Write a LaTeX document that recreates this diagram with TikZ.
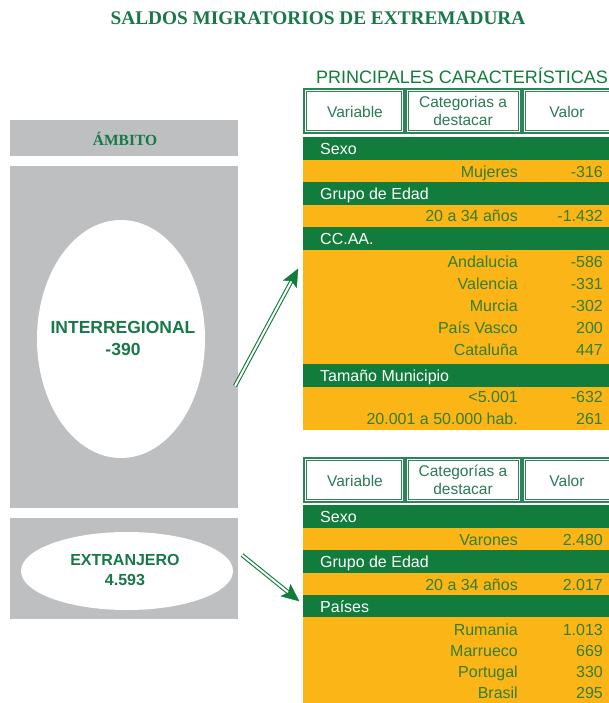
\documentclass[tikz,border=0pt]{standalone}
\usepackage{fontspec}
\setmainfont{Liberation Serif}
\setsansfont{Liberation Sans}
\usetikzlibrary{shapes.geometric,arrows.meta,calc}
\definecolor{bargreen}{RGB}{18,124,60}
\definecolor{baryellow}{RGB}{251,181,22}
\definecolor{boxgray}{RGB}{189,191,193}
\definecolor{valgreen}{RGB}{52,126,46}
\definecolor{titlegreen}{RGB}{24,120,72}
\definecolor{hdrgreen}{RGB}{44,122,84}
\definecolor{linegreen}{RGB}{46,132,88}
\tikzset{
  tf/.style={font=\sffamily\fontsize{16}{18}\selectfont, inner sep=0pt},
  varlbl/.style={tf, text=white, anchor=base west, yshift=-5.6pt},
  catlbl/.style={tf, text=valgreen, anchor=base east, yshift=-5.6pt},
  vallbl/.style={tf, text=valgreen, anchor=base east, yshift=-5.6pt},
  celloutline/.style={draw=linegreen, line width=1.1pt},
  cellinline/.style={draw=linegreen, line width=0.7pt},
  hdrtxt/.style={font=\sffamily\fontsize{15.5}{17.5}\selectfont, inner sep=0pt, text=hdrgreen, align=center},
  shaft/.style={draw=bargreen, line width=1.1pt, double=white, double distance=2pt},
  tiphead/.style={fill=bargreen, draw=bargreen, line width=0.4pt, line join=miter},
  bigtxt/.style={font=\sffamily\bfseries\fontsize{17.5}{22}\selectfont, text=titlegreen, align=center},
}
\begin{document}
\begin{tikzpicture}[x=1pt,y=-1pt]
\useasboundingbox (0,0) rectangle (609,703);
\clip (0,0) rectangle (609,703);
\fill[white] (0,0) rectangle (609,703);

% Title
\node[font=\bfseries\fontsize{19.3}{21}\selectfont, text=titlegreen] (title) at (318,18) {SALDOS MIGRATORIOS DE EXTREMADURA};

% Left side
\fill[boxgray] (10,120) rectangle (238,156);
\node[font=\bfseries\fontsize{15.5}{17}\selectfont, text=titlegreen] (ambito) at (125,139) {ÁMBITO};
\fill[boxgray] (10,166) rectangle (238,508);
\node[ellipse, fill=white, minimum width=168pt, minimum height=238pt, inner sep=0pt] (inter) at (121,339) {};
\node[bigtxt] (intertxt) at (123,338) {INTERREGIONAL\\-390};
\fill[boxgray] (10,518) rectangle (238,619);
\node[ellipse, fill=white, minimum width=212pt, minimum height=78pt, inner sep=0pt] (extr) at (127,571) {};
\node[bigtxt, font=\sffamily\bfseries\fontsize{16}{19.5}\selectfont] (extrtxt) at (125,570) {EXTRANJERO\\4.593};

% Table 1
\node[font=\sffamily\fontsize{18}{20}\selectfont, text=bargreen, anchor=west, inner sep=0pt] (pc) at (316,76) {PRINCIPALES CARACTERÍSTICAS};
\foreach \ya/\yb in {89/133, 458/502} {
  \draw[celloutline] (304,\ya) rectangle (404,\yb);
  \draw[cellinline] (306.5,\ya+2.5) rectangle (401.5,\yb-2.5);
  \draw[celloutline] (406,\ya) rectangle (521,\yb);
  \draw[cellinline] (408.5,\ya+2.5) rectangle (518.5,\yb-2.5);
  \draw[celloutline] (523,\ya) rectangle (616,\yb);
  \draw[cellinline] (525.5,\ya+2.5) rectangle (613.5,\yb-2.5);
}
\node[hdrtxt] (h1a) at (355,112) {Variable};
\node[hdrtxt] (h1b) at (463,111) {Categorias a\\destacar};
\node[hdrtxt] (h1c) at (567,112) {Valor};

\fill[bargreen] (303,137) rectangle (609,160);
\fill[baryellow] (303,160) rectangle (609,182);
\fill[bargreen] (303,182) rectangle (609,205);
\fill[baryellow] (303,205) rectangle (609,227);
\fill[bargreen] (303,227) rectangle (609,250);
\fill[baryellow] (303,250) rectangle (609,364);
\fill[bargreen] (303,364) rectangle (609,387);
\fill[baryellow] (303,387) rectangle (609,430);

\node[varlbl] (a1) at (320,149) {Sexo};
\node[catlbl] (a2) at (518,172) {Mujeres};
\node[vallbl] (a3) at (603,172) {-316};
\node[varlbl] (a4) at (320,194) {Grupo de Edad};
\node[catlbl] (a5) at (518,216) {20 a 34 años};
\node[vallbl] (a6) at (603,216) {-1.432};
\node[varlbl] (a7) at (320,239) {CC.AA.};
\node[catlbl] (a8) at (518,262) {Andalucia};
\node[vallbl] (a9) at (603,262) {-586};
\node[catlbl] (a10) at (518,284) {Valencia};
\node[vallbl] (a11) at (603,284) {-331};
\node[catlbl] (a12) at (518,306) {Murcia};
\node[vallbl] (a13) at (603,306) {-302};
\node[catlbl] (a14) at (518,328) {País Vasco};
\node[vallbl] (a15) at (603,328) {200};
\node[catlbl] (a16) at (518,350) {Cataluña};
\node[vallbl] (a17) at (603,350) {447};
\node[varlbl] (a18) at (320,376) {Tamaño Municipio};
\node[catlbl] (a19) at (518,397) {<5.001};
\node[vallbl] (a20) at (603,397) {-632};
\node[catlbl] (a21) at (518,419) {20.001 a 50.000 hab.};
\node[vallbl] (a22) at (603,419) {261};

% Table 2
\node[hdrtxt] (h2a) at (355,481) {Variable};
\node[hdrtxt] (h2b) at (463,480) {Categorías a\\destacar};
\node[hdrtxt] (h2c) at (567,481) {Valor};

\fill[bargreen] (303,505) rectangle (609,528);
\fill[baryellow] (303,528) rectangle (609,550);
\fill[bargreen] (303,550) rectangle (609,573);
\fill[baryellow] (303,573) rectangle (609,595);
\fill[bargreen] (303,595) rectangle (609,617);
\fill[baryellow] (303,617) rectangle (609,703);

\node[varlbl] (b1) at (320,517) {Sexo};
\node[catlbl] (b2) at (518,540) {Varones};
\node[vallbl] (b3) at (603,540) {2.480};
\node[varlbl] (b4) at (320,562) {Grupo de Edad};
\node[catlbl] (b5) at (518,585) {20 a 34 años};
\node[vallbl] (b6) at (603,585) {2.017};
\node[varlbl] (b7) at (320,607) {Países};
\node[catlbl] (b8) at (518,630) {Rumania};
\node[vallbl] (b9) at (603,630) {1.013};
\node[catlbl] (b10) at (518,651) {Marrueco};
\node[vallbl] (b11) at (603,651) {669};
\node[catlbl] (b12) at (518,672) {Portugal};
\node[vallbl] (b13) at (603,672) {330};
\node[catlbl] (b14) at (518,693) {Brasil};
\node[vallbl] (b15) at (603,693) {295};

% Arrows
\coordinate (t1) at (235,386);
\coordinate (e1) at (298,269);
\coordinate (t2) at (242,555);
\coordinate (e2) at (299,601);
\draw[shaft] (t1) -- ($(e1)!12pt!(t1)$);
\draw[shaft] (t2) -- ($(e2)!12pt!(t2)$);
\coordinate (b1c) at ($(e1)!17pt!(t1)$);
\coordinate (n1c) at ($(e1)!13.5pt!(t1)$);
\fill[tiphead] (e1) -- ($(b1c)!7.5pt!90:(e1)$) -- (n1c) -- ($(b1c)!7.5pt!-90:(e1)$) -- cycle;
\coordinate (b2c) at ($(e2)!17pt!(t2)$);
\coordinate (n2c) at ($(e2)!13.5pt!(t2)$);
\fill[tiphead] (e2) -- ($(b2c)!7.5pt!90:(e2)$) -- (n2c) -- ($(b2c)!7.5pt!-90:(e2)$) -- cycle;
\end{tikzpicture}
\end{document}
